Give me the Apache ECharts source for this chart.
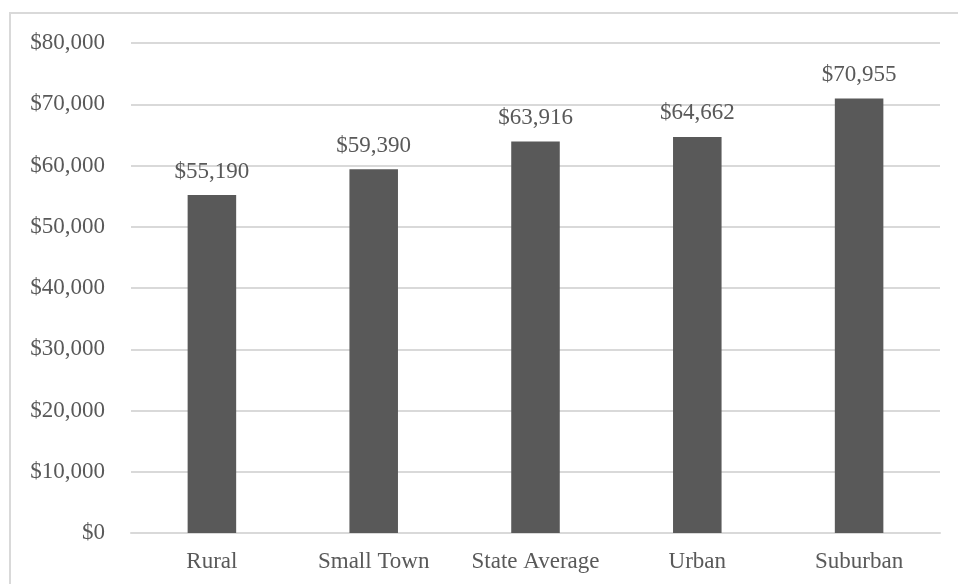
<!DOCTYPE html>
<html>
<head>
<meta charset="utf-8">
<script src="https://cdn.jsdelivr.net/npm/echarts@6/dist/echarts.min.js"></script>
<style>
  html, body { margin: 0; padding: 0; background: #ffffff; }
  #frame {
    position: absolute; left: 9px; top: 12px; width: 1000px; height: 700px;
    border: 2px solid #d9d9d9; box-sizing: border-box;
  }
  #chart { position: absolute; left: 0; top: 0; width: 958px; height: 584px; }
</style>
</head>
<body>
<div id="frame"></div>
<div id="chart"></div>
<script>
// Median household income by community type
const categories = ['Rural', 'Small Town', 'State Average', 'Urban', 'Suburban'];
const incomes = [55190, 59390, 63916, 64662, 70955];
const yMin = 0;
const yMax = 80000;
const yStep = 10000;

const fmt = v => '$' + v.toLocaleString('en-US');
const serif = '"Liberation Serif", "DejaVu Serif", serif';
const textColor = '#595959';

const chart = echarts.init(document.getElementById('chart'), null, { renderer: 'canvas' });
chart.setOption({
  animation: false,
  backgroundColor: 'transparent',
  grid: { left: 131, right: 18, top: 43, bottom: 51, containLabel: false },
  xAxis: {
    type: 'category',
    data: categories,
    axisLine: { show: true, lineStyle: { color: '#d9d9d9', width: 2 } },
    axisTick: { show: false },
    axisLabel: { interval: 0, hideOverlap: false, color: textColor, fontFamily: serif, fontSize: 23, margin: 17 }
  },
  yAxis: {
    type: 'value',
    min: yMin,
    max: yMax,
    interval: yStep,
    axisLine: { show: false },
    axisTick: { show: false },
    splitLine: { show: true, lineStyle: { color: '#d9d9d9', width: 2 } },
    axisLabel: { color: textColor, fontFamily: serif, fontSize: 23, margin: 26, formatter: v => fmt(v) }
  },
  series: [{
    type: 'bar',
    data: incomes,
    barWidth: '30%',
    itemStyle: { color: '#595959' },
    label: {
      show: true,
      position: 'top',
      distance: 12,
      color: textColor,
      fontFamily: serif,
      fontSize: 23,
      formatter: p => fmt(p.value)
    }
  }]
});
</script>
</body>
</html>
